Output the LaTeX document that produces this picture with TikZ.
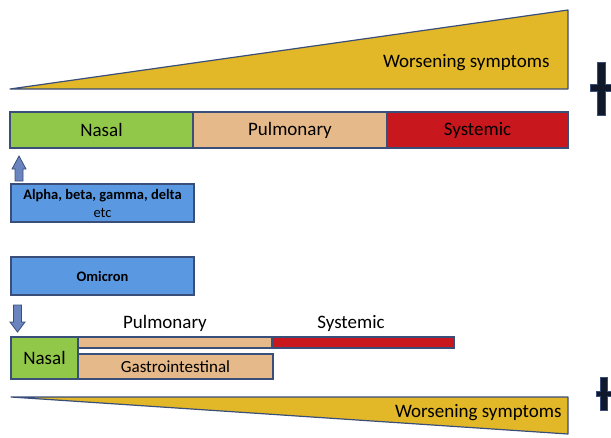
\documentclass[tikz,border=0pt]{standalone}
\usepackage{fontspec}
\setmainfont{Carlito}
\definecolor{mgold}{RGB}{226,184,40}
\definecolor{medge}{RGB}{58,78,122}
\definecolor{mgreen}{RGB}{146,200,74}
\definecolor{mtan}{RGB}{229,185,137}
\definecolor{mred}{RGB}{200,24,30}
\definecolor{mblue}{RGB}{90,153,226}
\definecolor{marrow}{RGB}{106,132,192}
\definecolor{mcross}{RGB}{16,24,44}
\tikzset{stage/.style = {draw=medge, line width=1.2pt, inner sep=0pt,
                         font=\fontsize{19}{22}\selectfont}}
\tikzset{variant/.style = {draw=medge, fill=mblue, line width=1.2pt, inner sep=0pt,
                           align=center, minimum width=183pt, minimum height=38pt,
                           font=\fontsize{14.5}{18}\selectfont}}
\tikzset{worse/.style = {draw=medge, fill=mgold, line width=1.2pt, line join=round}}
\tikzset{blockarrow/.style = {draw=medge, fill=marrow, line width=0.8pt}}
\tikzset{death/.style = {draw=medge, fill=mcross, line width=0.8pt}}

\begin{document}
\begin{tikzpicture}[x=1pt, y=-1pt]
      \useasboundingbox (0, 0) rectangle (611, 437);
      \draw [worse] (10, 89) -- (568, 10) -- (568, 89) -- cycle;
      \node [anchor=east, font=\fontsize{19}{22}\selectfont] (worsetop) at (553, 63) {Worsening symptoms};
      \draw [death] (597, 62) -- (605, 62) -- (605, 84) -- (614, 84) -- (614, 91) -- (605, 91)
                    -- (605, 115) -- (597, 115) -- (597, 91) -- (590, 91) -- (590, 84) -- (597, 84) -- cycle;
      \node [stage, fill=mgreen, minimum width=183pt, minimum height=36pt] (nasal) at (101.5, 130) {Nasal};
      \node [stage, fill=mtan, minimum width=194pt, minimum height=36pt] (pulm) at (290, 130) {Pulmonary};
      \node [stage, fill=mred, minimum width=181pt, minimum height=36pt] (syst) at (477.5, 130) {Systemic};
      \draw [blockarrow] (19, 156) -- (26, 169) -- (23, 169) -- (23, 181) -- (15, 181) -- (15, 169)
                         -- (12, 169) -- cycle;
      \node [variant] (older) at (102.5, 203) {\textbf{Alpha, beta, gamma, delta}\\etc};
      \node [variant] (omicron) at (102.5, 276) {\textbf{Omicron}};
      \draw [blockarrow] (13.5, 305) -- (21.5, 305) -- (21.5, 322) -- (25, 322) -- (17.5, 332)
                         -- (10, 322) -- (13.5, 322) -- cycle;
      \node [font=\fontsize{19}{22}\selectfont] (pulmlabel) at (165, 323) {Pulmonary};
      \node [font=\fontsize{19}{22}\selectfont] (systlabel) at (351, 323) {Systemic};
      \node [stage, fill=mgreen, minimum width=67pt, minimum height=42pt] (onasal) at (44.5, 358) {Nasal};
      \node [stage, fill=mtan, minimum width=194pt, minimum height=11pt] (opulm) at (175, 342.5) {};
      \node [stage, fill=mred, minimum width=182pt, minimum height=11pt] (osyst) at (363, 342.5) {};
      \node [stage, fill=mtan, minimum width=195pt, minimum height=25pt,
             font=\fontsize{17}{20}\selectfont] (ogastro) at (175.5, 366.5) {Gastrointestinal};
      \draw [worse] (11, 397) -- (568, 397) -- (568, 434) -- cycle;
      \node [anchor=east, font=\fontsize{19}{22}\selectfont] (worsebot) at (565, 413) {Worsening symptoms};
      \draw [death] (600, 377) -- (607, 377) -- (607, 391) -- (611, 391) -- (611, 396) -- (607, 396)
                    -- (607, 410) -- (600, 410) -- (600, 396) -- (596, 396) -- (596, 391) -- (600, 391) -- cycle;
    \end{tikzpicture}
\end{document}
